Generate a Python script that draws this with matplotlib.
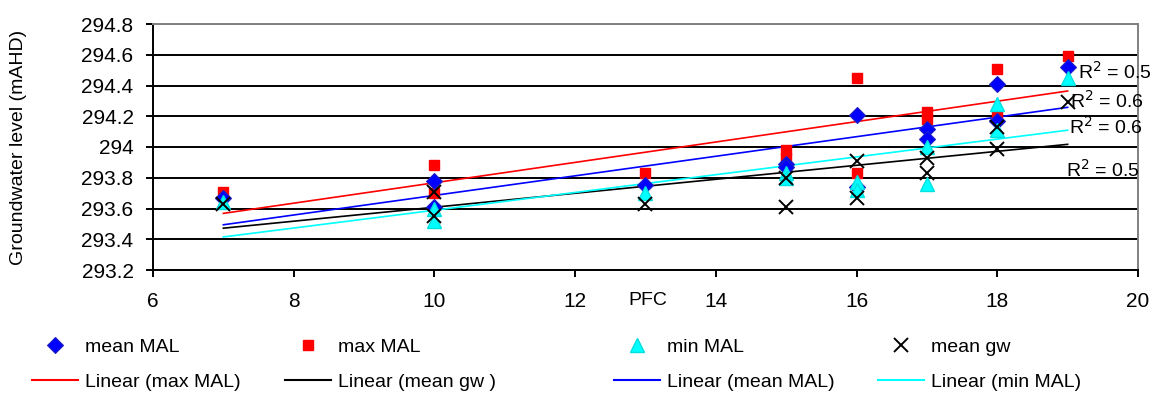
import matplotlib
matplotlib.use("Agg")
import matplotlib.pyplot as plt
from matplotlib.lines import Line2D
from matplotlib.ticker import FuncFormatter
import numpy as np

plt.rcParams['font.family'] = ['Liberation Sans', 'DejaVu Sans']

# ---- data ----
pfc = [7, 10, 10, 13, 15, 15, 16, 16, 17, 17, 18, 18, 19]
max_mal = [293.71, 293.88, 293.70, 293.83, 293.98, 293.93, 294.45, 293.83, 294.23, 294.18, 294.51, 294.20, 294.59]
mean_mal = [293.67, 293.78, 293.61, 293.75, 293.89, 293.87, 294.21, 293.74, 294.12, 294.05, 294.41, 294.17, 294.52]
min_mal = [293.64, 293.60, 293.52, 293.70, 293.83, 293.80, 293.77, 293.72, 294.00, 293.76, 294.28, 294.11, 294.45]
mean_gw = [293.63, 293.71, 293.55, 293.63, 293.80, 293.61, 293.91, 293.67, 293.93, 293.83, 294.13, 293.99, 294.29]
r2_labels = ["R$^2$ = 0.5", "R$^2$ = 0.6", "R$^2$ = 0.6", "R$^2$ = 0.5"]
y_ticks = [293.2, 293.4, 293.6, 293.8, 294.0, 294.2, 294.4, 294.6, 294.8]
x_ticks = [6, 8, 10, 12, 14, 16, 18, 20]

FS = 14
TFS = 15
fig = plt.figure(figsize=(11.52, 3.96), dpi=100)
W, H = 1152, 396
ax = fig.add_axes([153 / W, (H - 270) / H, 985 / W, 246 / H])

x = np.array(pfc, dtype=float)

def trend(y):
    p = np.polyfit(x, np.array(y), 1)
    xx = np.array([x.min(), x.max()])
    return xx, np.polyval(p, xx)

# gridlines
for yt in y_ticks[:-1]:
    ax.axhline(yt, color='black', lw=1.4, zorder=1)
ax.axhline(y_ticks[-1], color='#808080', lw=1.4, zorder=1)

# trendlines
lx, ly = trend(max_mal)
ax.plot(lx, ly, color='#FF0000', lw=1.2, zorder=2)
lx, ly = trend(mean_gw)
ax.plot(lx, ly, color='black', lw=1.2, zorder=2)
lx, ly = trend(mean_mal)
ax.plot(lx, ly, color='#0000FF', lw=1.2, zorder=2)
lx, ly = trend(min_mal)
ax.plot(lx, ly, color='#00FFFF', lw=1.2, zorder=2)

# markers
ax.plot(pfc, mean_mal, ls='none', marker='D', ms=8, mfc='#0000FF', mec='#2020C0', mew=0.8, zorder=4)
ax.plot(pfc, max_mal, ls='none', marker='s', ms=7, mfc='#FF0000', mec='#FF0000', zorder=3)
ax.plot(pfc, min_mal, ls='none', marker='^', ms=10, mfc='#00FFFF', mec='#00E0E0', zorder=4)
ax.plot(pfc, mean_gw, ls='none', marker='x', ms=9.5, mec='black', mew=1.4, zorder=5)

# R^2 labels
r2_pos = [(19.15, 294.49), (19.03, 294.30), (19.02, 294.13), (18.97, 293.85)]
for (tx, ty), lab in zip(r2_pos, r2_labels):
    ax.text(tx, ty, lab, fontsize=FS, va='center', ha='left', clip_on=False, zorder=6)

ax.set_xlim(6, 20)
ax.set_ylim(293.2, 294.8)
ax.set_xticks(x_ticks)
ax.set_yticks(y_ticks)
ax.yaxis.set_major_formatter(FuncFormatter(lambda v, p: f"{v:g}" if abs(v - round(v)) > 1e-6 else f"{int(round(v))}"))
ax.tick_params(axis='both', direction='out', length=5, width=1.4, labelsize=TFS)
ax.tick_params(axis='x', pad=11)
ax.tick_params(axis='y', pad=9)
for s in ['left', 'bottom']:
    ax.spines[s].set_linewidth(1.4)
    ax.spines[s].set_color('black')
for s in ['top', 'right']:
    ax.spines[s].set_linewidth(1.4)
    ax.spines[s].set_color('#808080')

ax.set_ylabel('Groundwater level (mAHD)', fontsize=FS)
ax.yaxis.set_label_coords(-0.128, 0.5)
ax.set_xlabel('PFC', fontsize=FS)
ax.xaxis.set_label_coords(0.5025, -0.09)
ax.xaxis.label.set_va('top')

# legend: four columns of two rows each
cols = [
    (32, [Line2D([], [], ls='none', marker='D', ms=8, mfc='#0000FF', mec='#2020C0', mew=0.8),
          Line2D([], [], color='#FF0000', lw=1.5)], ['mean MAL', 'Linear (max MAL)']),
    (285, [Line2D([], [], ls='none', marker='s', ms=7, mfc='#FF0000', mec='#FF0000'),
           Line2D([], [], color='black', lw=1.5)], ['max MAL', 'Linear (mean gw )']),
    (614, [Line2D([], [], ls='none', marker='^', ms=10, mfc='#00FFFF', mec='#00E0E0'),
           Line2D([], [], color='#0000FF', lw=1.5)], ['min MAL', 'Linear (mean MAL)']),
    (878, [Line2D([], [], ls='none', marker='x', ms=9.5, mec='black', mew=1.4),
           Line2D([], [], color='#00FFFF', lw=1.5)], ['mean gw', 'Linear (min MAL)']),
]
for px, hs, labs in cols:
    fig.legend(hs, labs, loc='upper left', bbox_to_anchor=(px / W, 1 - 338 / H),
               frameon=False, fontsize=FS, borderpad=0, borderaxespad=0,
               handlelength=2.35, handletextpad=0.4, labelspacing=0.9)

fig.savefig('out.png', dpi=100)
